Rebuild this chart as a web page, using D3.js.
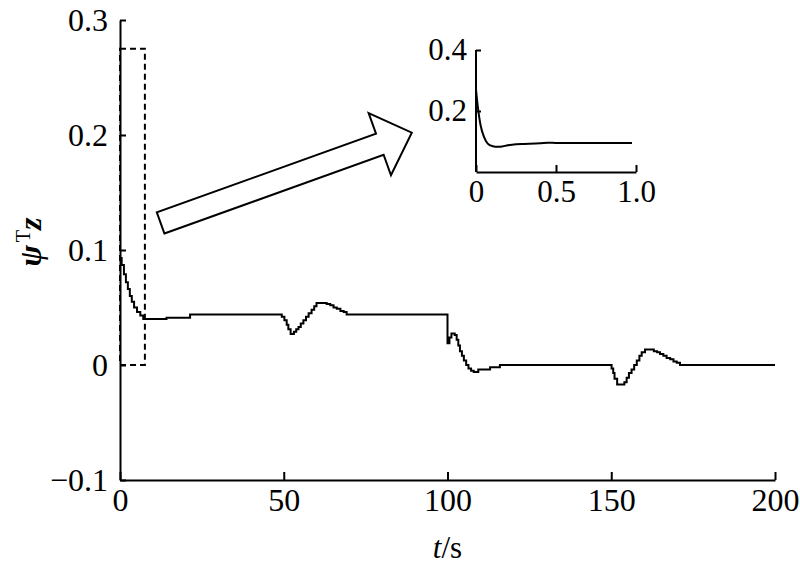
<!DOCTYPE html>
<html>
<head>
<meta charset="utf-8">
<script src="https://cdn.jsdelivr.net/npm/d3@7"></script>
<style>
  body { margin: 0; background: #fff; }
  svg { display: block; }
  svg text { font-family: "Liberation Serif", "Times New Roman", Tinos, "DejaVu Serif", serif !important; fill: #000; }
</style>
</head>
<body>
<div id="chart"></div>
<script>
// main series (sample-and-hold, drawn as steps)
const mainT = [0, 0.5, 1.2, 1.8, 2.4, 3.0, 3.6, 4.3, 5.2, 6.2,
  7.1, 14.2, 21.4, 49.4, 50.2, 50.9, 51.4, 52.1, 53.1, 53.8,
  54.5, 55.2, 56.0, 56.8, 57.6, 58.5, 59.3, 60.0, 63.1, 64.2,
  65.2, 66.2, 67.3, 68.3, 69.2, 100.0, 100.6, 101.2, 102.2, 102.8,
  103.3, 103.8, 104.4, 105.0, 105.7, 106.4, 107.2, 108.0, 109.4, 113.0,
  116.0, 150.1, 150.6, 151.0, 151.8, 154.0, 154.7, 155.4, 156.2, 157.0,
  157.8, 158.6, 159.3, 160.3, 163.0, 164.0, 164.9, 165.9, 166.9, 168.0,
  169.0, 170.0, 171.0, 200];
const mainV = [0.093, 0.087, 0.079, 0.072, 0.066, 0.060, 0.055, 0.050, 0.046, 0.043,
  0.040, 0.041, 0.044, 0.042, 0.039, 0.035, 0.031, 0.027, 0.029, 0.031,
  0.033, 0.036, 0.039, 0.042, 0.045, 0.048, 0.051, 0.054, 0.053, 0.052,
  0.050, 0.049, 0.047, 0.046, 0.044, 0.019, 0.024, 0.0275, 0.026, 0.022,
  0.017, 0.012, 0.008, 0.004, 0.000, -0.003, -0.005, -0.006, -0.004, -0.002,
  0, -0.003, -0.007, -0.012, -0.017, -0.015, -0.011, -0.007, -0.004, 0.000,
  0.004, 0.008, 0.011, 0.0135, 0.012, 0.011, 0.0095, 0.008, 0.006, 0.005,
  0.003, 0.002, 0, 0];

// inset: first second, zoomed
const insetT = [0, 0.01, 0.02, 0.03, 0.05, 0.07, 0.09, 0.12, 0.15, 0.2, 0.25, 0.3, 0.4, 0.45, 0.5, 0.975];
const insetV = [0.27, 0.22, 0.18, 0.15, 0.115, 0.095, 0.087, 0.083, 0.083, 0.088, 0.091, 0.092, 0.094, 0.096, 0.095, 0.095];

const xTicks = [0, 50, 100, 150, 200];
const yTicks = [-0.1, 0, 0.1, 0.2, 0.3];
const insetXTicks = [0, 0.5, 1.0];
const insetYTicks = [0.2, 0.4];

// dashed box marking the zoomed window, and the arrow to the inset
const boxT = [0, 7.6];
const boxV = [0, 0.275];
const arrowFrom = [12.4, 0.1235];
const arrowTo = [89.1, 0.202];

const W = 800, H = 570;
const svg = d3.select('#chart').append('svg').attr('width', W).attr('height', H);

const x = d3.scaleLinear().domain([0, 200]).range([120, 775]);
const y = d3.scaleLinear().domain([-0.1, 0.3]).range([480, 20]);

const fmtY = d => d === 0 ? '0' : d3.format('.1f')(d);

// axes
const gx = svg.append('g').attr('transform', `translate(0,${y(-0.1)})`)
  .call(d3.axisBottom(x).tickValues(xTicks).tickSize(-8).tickSizeOuter(0).tickPadding(8));
const gy = svg.append('g').attr('transform', `translate(${x(0)},0)`)
  .call(d3.axisLeft(y).tickValues(yTicks).tickFormat(fmtY).tickSize(-6).tickSizeOuter(0).tickPadding(12));
[gx, gy].forEach(g => {
  g.attr('font-family', null).attr('font-size', null);
  g.selectAll('path, line').attr('stroke', '#000').attr('stroke-width', 2);
  g.selectAll('text').style('font-size', '32px');
});

// curve
const pts = mainT.map((t, i) => [t, mainV[i]]);
svg.append('path')
  .datum(pts)
  .attr('fill', 'none')
  .attr('stroke', '#000')
  .attr('stroke-width', 2)
  .attr('d', d3.line().x(d => x(d[0])).y(d => y(d[1])).curve(d3.curveStepAfter));

// dashed window
svg.append('rect')
  .attr('x', x(boxT[0])).attr('y', y(boxV[1]))
  .attr('width', x(boxT[1]) - x(boxT[0])).attr('height', y(boxV[0]) - y(boxV[1]))
  .attr('fill', 'none').attr('stroke', '#000').attr('stroke-width', 2)
  .attr('stroke-dasharray', '6,4');

// hollow block arrow
{
  const x0 = x(arrowFrom[0]), y0 = y(arrowFrom[1]);
  const x1 = x(arrowTo[0]), y1 = y(arrowTo[1]);
  const len = Math.hypot(x1 - x0, y1 - y0);
  const ux = (x1 - x0) / len, uy = (y1 - y0) / len;
  const nx = -uy, ny = ux;
  const sw = 11.25, hw = 33, hl = 34;
  const bx = x1 - ux * hl, by = y1 - uy * hl;
  const poly = [
    [x0 + nx * sw, y0 + ny * sw],
    [bx + nx * sw, by + ny * sw],
    [bx + nx * hw, by + ny * hw],
    [x1, y1],
    [bx - nx * hw, by - ny * hw],
    [bx - nx * sw, by - ny * sw],
    [x0 - nx * sw, y0 - ny * sw]
  ];
  svg.append('path')
    .attr('d', 'M' + poly.map(p => p.join(',')).join('L') + 'Z')
    .attr('fill', '#fff').attr('stroke', '#000').attr('stroke-width', 2)
    .attr('stroke-linejoin', 'miter');
}

// axis titles
svg.append('text')
  .attr('x', x(100)).attr('y', 558)
  .attr('text-anchor', 'middle')
  .style('font-size', '31px')
  .html('<tspan font-style="italic">t</tspan>/s');

const yl = svg.append('text')
  .attr('transform', 'translate(41,242) rotate(-90)')
  .attr('text-anchor', 'middle')
  .style('font-size', '32px');
yl.append('tspan').attr('font-weight', 'bold').attr('font-style', 'italic').text('ψ');
yl.append('tspan').attr('dx', 3).attr('dy', -11).style('font-size', '20px').text('T');
yl.append('tspan').attr('dy', 11).attr('font-weight', 'bold').attr('font-style', 'italic').text('z');

// inset
const ix = d3.scaleLinear().domain([0, 1]).range([476, 636]);
const iy = d3.scaleLinear().domain([0, 0.4]).range([172, 50]);
const igx = svg.append('g').attr('transform', `translate(0,${iy(0)})`)
  .call(d3.axisBottom(ix).tickValues(insetXTicks).tickFormat(d3.format('.1f')).tickSize(-7).tickSizeOuter(0).tickPadding(8));
igx.selectAll('text').filter(d => d === 0).text('0');
const igy = svg.append('g').attr('transform', `translate(${ix(0)},0)`)
  .call(d3.axisLeft(iy).tickValues(insetYTicks).tickFormat(d3.format('.1f')).tickSize(-5).tickSizeOuter(0).tickPadding(9));
igy.select('.domain').attr('d', `M0,${iy(0.4)}V${iy(0)}`);
[igx, igy].forEach(g => {
  g.attr('font-family', null).attr('font-size', null);
  g.selectAll('path, line').attr('stroke', '#000').attr('stroke-width', 2);
  g.selectAll('text').style('font-size', '31px');
});
svg.append('path')
  .datum(insetT.map((t, i) => [t, insetV[i]]))
  .attr('fill', 'none').attr('stroke', '#000').attr('stroke-width', 2)
  .attr('d', d3.line().x(d => ix(d[0])).y(d => iy(d[1])).curve(d3.curveMonotoneX));
</script>
</body>
</html>
